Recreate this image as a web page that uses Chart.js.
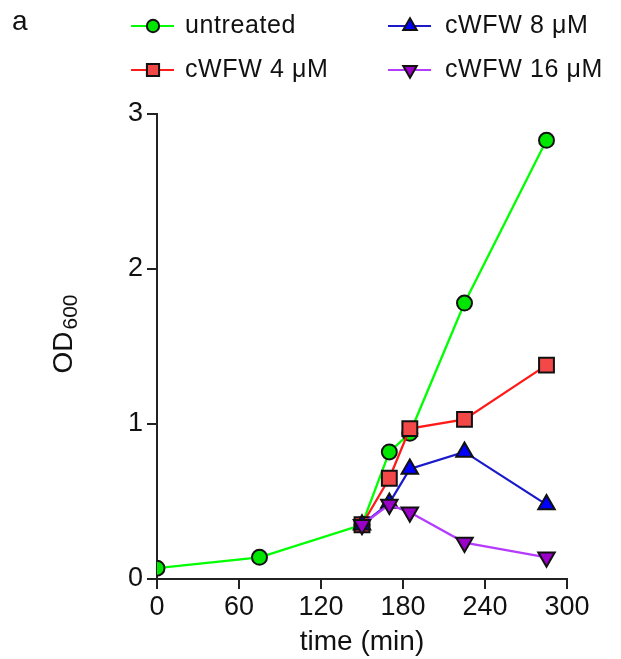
<!DOCTYPE html>
<html>
<head>
<meta charset="utf-8">
<script src="https://cdn.jsdelivr.net/npm/chart.js@4/dist/chart.umd.min.js"></script>
<style>
  html, body { margin: 0; padding: 0; background: #fff; }
  #wrap { position: relative; width: 621px; height: 659px; }
</style>
</head>
<body>
<div id="wrap"><canvas id="chart" width="621" height="659"></canvas></div>
<script>
// time points (min)
const timeAll = [0, 75, 150, 170, 185, 225, 285];
const timeTreated = [150, 170, 185, 225, 285];

// OD600 values
const untreated = [0.07, 0.14, 0.35, 0.82, 0.94, 1.78, 2.83];
const cwfw4 = [0.35, 0.65, 0.97, 1.03, 1.38];
const cwfw8 = [0.35, 0.49, 0.71, 0.82, 0.48];
const cwfw16 = [0.35, 0.48, 0.43, 0.235, 0.14];

const xTicks = [0, 60, 120, 180, 240, 300];
const yTicks = [0, 1, 2, 3];

const FONT = '"Liberation Sans", Arial, sans-serif';

function toPoints(xs, ys) {
  return xs.map((x, i) => ({ x: x, y: ys[i] }));
}

function makeSet(label, xs, ys, line, fill, style, radius, rotation, order) {
  return {
    label: label,
    data: toPoints(xs, ys),
    borderColor: line,
    backgroundColor: fill,
    pointBackgroundColor: fill,
    pointBorderColor: '#111',
    pointBorderWidth: 2,
    pointStyle: style,
    pointRadius: radius,
    pointRotation: rotation,
    borderWidth: 2.3,
    tension: 0,
    order: order,
  };
}

const datasets = [
  makeSet('untreated', timeAll, untreated, '#00ff00', '#00e600', 'circle', 7.5, 0, 4),
  makeSet('cWFW 4 μM', timeTreated, cwfw4, '#ff1a1a', '#f24848', 'rect', 10.5, 0, 3),
  makeSet('cWFW 8 μM', timeTreated, cwfw8, '#1a1acc', '#0000ff', 'triangle', 9.5, 0, 2),
  makeSet('cWFW 16 μM', timeTreated, cwfw16, '#b43cff', '#9a00c8', 'triangle', 9.5, 180, 1),
];

// legend slots: [dataset index, marker x, row y, text x]
const legendSlots = [
  [0, 153, 26, 185],
  [2, 410, 26, 445],
  [1, 153, 70, 185],
  [3, 410, 70, 445],
];

const extras = {
  id: 'extras',
  afterDraw(chart) {
    const ctx = chart.ctx;
    ctx.save();
    ctx.fillStyle = '#111';
    ctx.textBaseline = 'middle';

    // panel letter
    ctx.font = '28px ' + FONT;
    ctx.textAlign = 'left';
    ctx.fillText('a', 12, 22);

    // legend
    legendSlots.forEach(([idx, mx, my, tx]) => {
      const ds = chart.data.datasets[idx];
      ctx.strokeStyle = ds.borderColor;
      ctx.lineWidth = 2;
      ctx.beginPath();
      ctx.moveTo(mx - 22, my);
      ctx.lineTo(mx + 21, my);
      ctx.stroke();
      ctx.fillStyle = ds.pointBackgroundColor;
      ctx.strokeStyle = ds.pointBorderColor;
      ctx.lineWidth = 2;
      Chart.helpers.drawPoint(ctx, {
        pointStyle: ds.pointStyle,
        rotation: ds.pointRotation,
        radius: ds.pointRadius * 0.82,
        borderWidth: 2,
      }, mx, my);
      ctx.fillStyle = '#111';
      ctx.font = '25px ' + FONT;
      ctx.letterSpacing = '0.6px';
      ctx.fillText(ds.label, tx, my);
      ctx.letterSpacing = '0px';
    });

    // y axis title with subscript
    ctx.translate(64, 334);
    ctx.rotate(-Math.PI / 2);
    ctx.font = '28px ' + FONT;
    const w1 = ctx.measureText('OD').width;
    ctx.font = '21px ' + FONT;
    const w2 = ctx.measureText('600').width;
    const start = -(w1 + 2 + w2) / 2;
    ctx.textAlign = 'left';
    ctx.font = '28px ' + FONT;
    ctx.fillText('OD', start, 0);
    ctx.font = '21px ' + FONT;
    ctx.fillText('600', start + w1 + 2, 7);
    ctx.restore();
  },
};

new Chart(document.getElementById('chart'), {
  type: 'line',
  data: { datasets: datasets },
  options: {
    responsive: false,
    animation: false,
    layout: { padding: { left: 0, top: 114, right: 54, bottom: 0 } },
    plugins: {
      legend: { display: false },
      tooltip: { enabled: false },
    },
    elements: { line: { fill: false } },
    scales: {
      x: {
        type: 'linear',
        min: 0,
        max: 300,
        afterBuildTicks: (scale) => {
          scale.ticks = xTicks.map((v) => ({ value: v }));
        },
        afterFit: (scale) => {
          scale.height = 80;
        },
        border: { color: '#222', width: 2 },
        grid: { drawOnChartArea: false, tickLength: 10, color: '#222', lineWidth: 2 },
        ticks: { color: '#111', font: { family: FONT, size: 27 }, padding: 2, maxRotation: 0 },
        title: {
          display: true,
          text: 'time (min)',
          color: '#111',
          font: { family: FONT, size: 28 },
          padding: { top: -6, bottom: 0 },
        },
      },
      y: {
        type: 'linear',
        min: 0,
        max: 3,
        afterBuildTicks: (scale) => {
          scale.ticks = yTicks.map((v) => ({ value: v }));
        },
        afterFit: (scale) => {
          scale.width = 157;
        },
        border: { color: '#222', width: 2 },
        grid: { drawOnChartArea: false, tickLength: 10, color: '#222', lineWidth: 2 },
        ticks: { color: '#111', font: { family: FONT, size: 27 }, padding: 4 },
      },
    },
  },
  plugins: [extras],
});
</script>
</body>
</html>
